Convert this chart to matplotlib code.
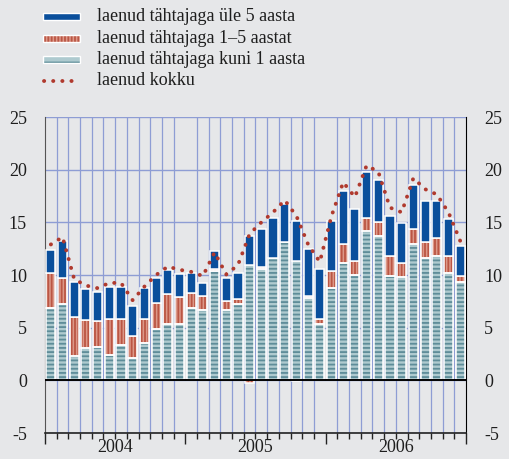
import numpy as np
import matplotlib
matplotlib.use("Agg")
import matplotlib.pyplot as plt
from matplotlib.patches import Rectangle
from matplotlib.lines import Line2D
import matplotlib.transforms as mtransforms

plt.rcParams['font.family'] = ['Liberation Serif', 'DejaVu Serif']
plt.rcParams['axes.unicode_minus'] = False
plt.rcParams['hatch.linewidth'] = 1.3

# monthly data, Jan 2004 .. Dec 2006
years = ['2004', '2005', '2006']
short = [6.9, 7.2, 2.3, 3.1, 3.2, 2.4, 3.4, 2.15, 3.55, 4.9, 5.35, 5.35,
         6.9, 6.7, 10.35, 6.7, 7.2, 10.95, 10.55, 11.6, 13.1, 11.35, 7.8, 5.35,
         8.8, 11.1, 10.0, 14.15, 13.7, 9.9, 9.8, 12.9, 11.6, 11.8, 10.2, 9.3]
mid = [3.3, 2.55, 3.7, 2.6, 2.45, 3.4, 2.45, 2.1, 2.25, 2.4, 2.85, 2.55,
       1.4, 1.3, 0.2, 0.8, 0.55, -0.3, 0.2, 0.05, 0.05, -0.1, 0.25, 0.5,
       1.6, 1.8, 1.35, 1.25, 1.3, 1.9, 1.3, 1.5, 1.5, 1.7, 1.65, 0.65]
long = [2.2, 3.45, 3.3, 3.0, 2.75, 3.1, 3.05, 2.85, 2.95, 2.4, 2.25, 2.2,
        1.9, 1.2, 1.7, 2.2, 2.45, 2.75, 3.6, 3.8, 3.55, 3.8, 4.4, 4.75,
        4.7, 5.1, 4.95, 4.4, 4.0, 3.8, 3.85, 4.1, 3.9, 3.5, 3.5, 2.85]
total = [12.9, 13.6, 9.6, 9.0, 8.75, 9.25, 9.25, 7.6, 8.9, 10.0, 10.8, 10.5,
         10.3, 9.9, 12.15, 10.05, 10.95, 13.9, 15.0, 15.95, 17.1, 15.6, 12.9, 11.25,
         15.6, 18.8, 17.4, 20.4, 19.8, 16.4, 15.95, 19.2, 18.15, 17.65, 15.95, 13.25]
labels = ['laenud tähtajaga üle 5 aasta', 'laenud tähtajaga 1\u20135 aastat',
          'laenud tähtajaga kuni 1 aasta', 'laenud kokku']

bg = '#e6e7e9'
blue = '#0a4f9c'
red_fill, red_hatch = '#dc9888', '#bb5644'
teal_fill, teal_hatch = '#aecacf', '#5e8d99'
dot_col = '#b03a2e'
grid_col = '#8e9dd4'
txt_col = '#1e1e1e'

short = np.array(short)
mid = np.array(mid)
long = np.array(long)
x = np.arange(len(short)) + 0.5
w = 0.78

fig = plt.figure(figsize=(5.10, 4.59), dpi=100, facecolor=bg)
ax = fig.add_axes([45 / 510, 1 - 433 / 459, 421 / 510, 316 / 459])
ax.set_facecolor(bg)

mid_bottom = np.where(mid < 0, 0, short)
long_bottom = short + np.clip(mid, 0, None)


def hatched_bar(vals, bottom, fill, hcol, hatch):
    ax.bar(x, vals, w, bottom=bottom, color=fill, edgecolor=hcol, hatch=hatch,
           linewidth=0, zorder=2)
    ax.bar(x, vals, w, bottom=bottom, fill=False, edgecolor='white',
           linewidth=1.1, zorder=3)


hatched_bar(short, 0, teal_fill, teal_hatch, '----')
hatched_bar(mid, mid_bottom, red_fill, red_hatch, '|||||')
ax.bar(x, long, w, bottom=long_bottom, color=blue, edgecolor='white',
       linewidth=1.1, zorder=3)

ax.plot(x, total, color=dot_col, lw=2.8, linestyle=(0, (0.05, 2.3)),
        dash_capstyle='round', zorder=4)

ax.axhline(0, color='black', lw=1.4, zorder=5)

ax.set_xlim(0, 36)
ax.set_ylim(-5, 25)
ax.set_yticks(np.arange(-5, 26, 5))
ax.set_xticks([0, 12, 24, 36])
ax.set_xticks(np.arange(37), minor=True)
ax.set_xticklabels([])
ax.grid(True, which='minor', axis='x', color=grid_col, lw=0.9, zorder=0)
ax.grid(True, which='major', axis='y', color=grid_col, lw=1.0, zorder=0)
ax.set_axisbelow(True)
ax.tick_params(axis='x', which='major', length=8, width=1.0, color='#222222')
ax.tick_params(axis='x', which='minor', length=4, width=1.0, color='#222222')
ax.tick_params(axis='y', length=0, labelsize=13, pad=13, labelright=True,
               labelcolor=txt_col)
ax.spines['top'].set_visible(False)
ax.spines['left'].set_color('#555555')
ax.spines['right'].set_color('black')
ax.spines['bottom'].set_color('#222222')
ax.spines['bottom'].set_linewidth(1.2)

trans = mtransforms.blended_transform_factory(ax.transData, ax.transAxes)
for i, yr in enumerate(years):
    ax.text(6 + 12 * i, -0.046, yr, transform=trans, ha='center', va='center',
            fontsize=13, color=txt_col)

# legend drawn by hand in figure pixels
W, H = 510, 459
rows = [16.5, 38.5, 59.5, 80.5]
hx0, hx1 = 43, 80
hh = 7
handles = [
    dict(fc=blue, ec='white', hatch=None),
    dict(fc=red_fill, ec=red_hatch, hatch='|||||'),
    dict(fc=teal_fill, ec=teal_hatch, hatch='--'),
]
for r, hd in zip(rows[:3], handles):
    y0 = 1 - (r + hh / 2) / H
    p = Rectangle((hx0 / W, y0), (hx1 - hx0) / W, hh / H, transform=fig.transFigure,
                  facecolor=hd['fc'], edgecolor=hd['ec'], hatch=hd['hatch'],
                  linewidth=0 if hd['hatch'] else 1.0)
    fig.add_artist(p)
    if hd['hatch']:
        fig.add_artist(Rectangle((hx0 / W, y0), (hx1 - hx0) / W, hh / H,
                                 transform=fig.transFigure, fill=False,
                                 edgecolor='white', linewidth=1.0))
fig.add_artist(Line2D([(hx0 + 1) / W, (hx1 - 1) / W], [1 - rows[3] / H] * 2,
                      transform=fig.transFigure, color=dot_col, lw=2.8,
                      linestyle=(0, (0.05, 2.3)), dash_capstyle='round'))
for r, lab in zip(rows, labels):
    fig.text(97 / W, 1 - r / H, lab, ha='left', va='center', fontsize=13,
             color=txt_col)

fig.savefig('out.png', dpi=100, facecolor=bg)
